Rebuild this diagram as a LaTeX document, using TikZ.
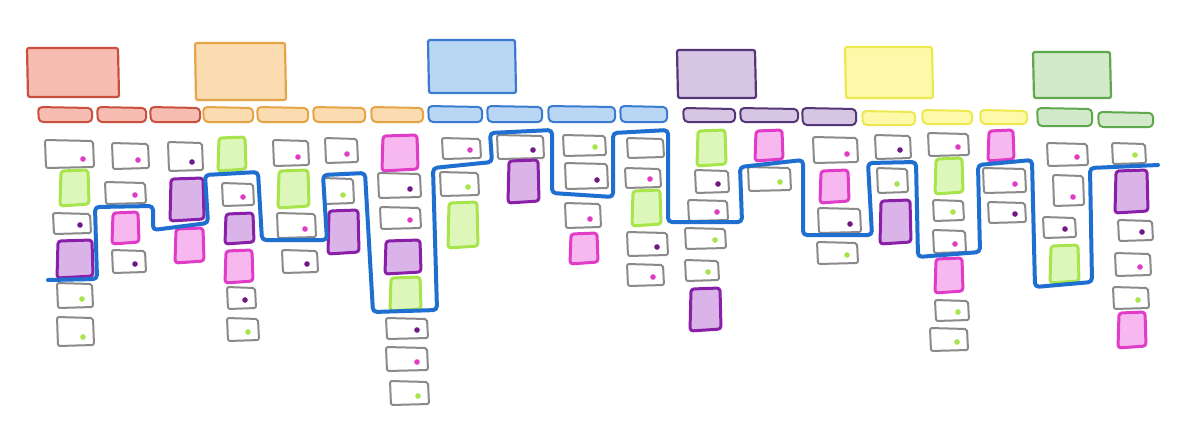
\documentclass[tikz,border=0pt]{standalone}
\definecolor{redF}{HTML}{F7BCB2}\definecolor{redD}{HTML}{C9503E}
\definecolor{oraF}{HTML}{FBDCB0}\definecolor{oraD}{HTML}{E6A448}
\definecolor{bluF}{HTML}{BAD6F5}\definecolor{bluD}{HTML}{3A7BD0}
\definecolor{purF}{HTML}{D6C6E4}\definecolor{purD}{HTML}{553778}
\definecolor{yelF}{HTML}{FCFAA8}\definecolor{yelD}{HTML}{EEE850}
\definecolor{grnF}{HTML}{D2EACA}\definecolor{grnD}{HTML}{5FA84E}
\definecolor{cardgray}{HTML}{8A8A8A}
\definecolor{magF}{HTML}{F7B8EF}\definecolor{magD}{HTML}{E03CC8}
\definecolor{vioF}{HTML}{DAB4E8}\definecolor{vioD}{HTML}{8A1FA8}
\definecolor{limF}{HTML}{DDF7BA}\definecolor{limD}{HTML}{A8E44C}
\definecolor{relblue}{HTML}{1F6FD1}
\tikzset{
  gcard/.style={draw=cardgray,line width=1pt,line join=round,rounded corners=1pt,fill=white},
  sqm/.style={draw=magD,fill=magF,line width=1.5pt,line join=round,rounded corners=1.5pt},
  sqp/.style={draw=vioD,fill=vioF,line width=1.5pt,line join=round,rounded corners=1.5pt},
  sqg/.style={draw=limD,fill=limF,line width=1.5pt,line join=round,rounded corners=1.5pt},
  dm/.style={fill=magD},
  dp/.style={fill=vioD!80!black},
  dg/.style={fill=limD},
  release/.style={draw=relblue,line width=2pt,line join=round,line cap=round,rounded corners=2pt},
  actbox/.style={line width=1.1pt,line join=round,rounded corners=1pt},
  taskbox/.style={line width=1pt,line join=round,rounded corners=2pt}
}
\newcommand\Gc[5]{\draw[gcard] (#1,#2) -- (#3,#2+1) -- (#3+1,#4) -- (#1+1,#4+1) -- cycle;
  \fill[#5] (#3-10,#4-8) circle[radius=1.4pt];}
\newcommand\Gn[4]{\draw[gcard] (#1,#2) -- (#3,#2+1) -- (#3+1,#4) -- (#1+1,#4+1) -- cycle;}
\newcommand\Sq[5]{\draw[#1] (#2+1,#3+1) -- (#4,#3) -- (#4+1,#5-1) -- (#2,#5+1) -- cycle;}
\newcommand\Act[6]{\draw[actbox,draw=#2,fill=#1] (#3,#4) -- (#5,#4) -- (#5+1,#6) -- (#3+1,#6) -- cycle;}
\newcommand\Tk[6]{\draw[taskbox,draw=#2,fill=#1] (#3,#4) -- (#5,#4+1) -- (#5,#6) -- (#3+1,#6) -- cycle;}
\begin{document}
\begin{tikzpicture}[x=0.5pt,y=-0.5pt]
\fill[white] (0,0) rectangle (1200,436);
\useasboundingbox (0,0) rectangle (1200,436);
% activities
\Act{redF}{redD}{27}{48}{118}{97}
\Act{oraF}{oraD}{195}{43}{285}{100}
\Act{bluF}{bluD}{428}{40}{515}{93}
\Act{purF}{purD}{677}{50}{755}{98}
\Act{yelF}{yelD}{845}{47}{932}{98}
\Act{grnF}{grnD}{1033}{52}{1110}{98}
% tasks
\Tk{redF}{redD}{38}{107}{92}{122}
\Tk{redF}{redD}{97}{107}{146}{122}
\Tk{redF}{redD}{150}{107}{200}{122}
\Tk{oraF}{oraD}{203}{107}{253}{122}
\Tk{oraF}{oraD}{257}{107}{308}{122}
\Tk{oraF}{oraD}{313}{107}{365}{122}
\Tk{oraF}{oraD}{371}{107}{423}{122}
\Tk{bluF}{bluD}{428}{106}{482}{122}
\Tk{bluF}{bluD}{487}{106}{542}{122}
\Tk{bluF}{bluD}{548}{106}{615}{122}
\Tk{bluF}{bluD}{620}{106}{667}{122}
\Tk{purF}{purD}{683}{108}{735}{122}
\Tk{purF}{purD}{740}{108}{798}{122}
\Tk{purF}{purD}{802}{108}{856}{125}
\Tk{yelF}{yelD}{862}{111}{915}{125}
\Tk{yelF}{yelD}{922}{110}{972}{124}
\Tk{yelF}{yelD}{980}{110}{1027}{124}
\Tk{grnF}{grnD}{1037}{108}{1092}{126}
\Tk{grnF}{grnD}{1098}{112}{1153}{127}
% col 1
\Gc{45}{140}{93}{167}{dm}
\Sq{sqg}{60}{170}{88}{205}
\Gc{53}{213}{90}{233}{dp}
\Sq{sqp}{57}{240}{92}{277}
\Gc{57}{283}{92}{307}{dg}
\Gc{57}{317}{93}{345}{dg}
% col 2
\Gc{112}{143}{148}{168}{dm}
\Gc{105}{182}{145}{203}{dm}
\Sq{sqm}{112}{212}{138}{243}
\Gc{112}{250}{145}{272}{dp}
% col 3
\Gc{168}{142}{202}{170}{dp}
\Sq{sqp}{170}{178}{203}{220}
\Sq{sqm}{175}{228}{203}{262}
% col 4
\Sq{sqg}{218}{137}{245}{170}
\Gc{222}{183}{253}{205}{dm}
\Sq{sqp}{225}{213}{253}{243}
\Sq{sqm}{225}{250}{252}{282}
\Gc{227}{287}{255}{308}{dp}
\Gc{227}{318}{258}{340}{dg}
% col 5
\Gc{273}{140}{308}{165}{dm}
\Sq{sqg}{278}{170}{308}{207}
\Gc{277}{213}{315}{237}{dm}
\Gc{282}{250}{317}{272}{dp}
% col 6
\Gc{325}{138}{357}{162}{dm}
\Gc{323}{178}{353}{203}{dg}
\Sq{sqp}{328}{210}{358}{253}
% col 7
\Sq{sqm}{382}{135}{417}{170}
\Gc{378}{173}{420}{197}{dp}
\Gc{380}{207}{420}{228}{dm}
\Sq{sqp}{385}{240}{420}{273}
\Sq{sqg}{390}{277}{420}{310}
\Gc{386}{318}{427}{338}{dp}
\Gc{386}{347}{427}{370}{dm}
\Gc{390}{381}{428}{404}{dg}
% col 8
\Gc{442}{138}{480}{158}{dm}
\Gc{440}{172}{478}{195}{dg}
\Sq{sqg}{448}{202}{477}{247}
% col 9
\Gc{497}{135}{543}{158}{dp}
\Sq{sqp}{508}{160}{538}{202}
% col 10
\Gc{563}{135}{605}{155}{dg}
\Gc{565}{163}{607}{188}{dp}
\Gc{565}{203}{600}{227}{dm}
\Sq{sqm}{570}{233}{597}{263}
% col 11
\Gn{627}{138}{663}{157}
\Gc{625}{168}{660}{187}{dm}
\Sq{sqg}{632}{190}{660}{225}
\Gc{627}{232}{667}{255}{dp}
\Gc{627}{264}{663}{285}{dm}
% col 12
\Sq{sqg}{697}{130}{725}{165}
\Gc{695}{170}{728}{192}{dp}
\Gc{688}{200}{727}{220}{dm}
\Gc{685}{228}{725}{248}{dg}
\Gc{685}{260}{718}{280}{dg}
\Sq{sqp}{690}{288}{720}{330}
% col 13
\Sq{sqm}{755}{130}{782}{160}
\Gc{748}{167}{790}{190}{dg}
% col 14
\Gc{813}{137}{857}{162}{dm}
\Sq{sqm}{820}{170}{848}{202}
\Gc{818}{208}{860}{232}{dp}
\Gc{817}{242}{857}{263}{dg}
% col 15
\Gc{875}{135}{910}{158}{dp}
\Gc{877}{168}{907}{192}{dg}
\Sq{sqp}{880}{200}{910}{243}
% col 16
\Gc{928}{133}{968}{155}{dm}
\Sq{sqg}{935}{158}{962}{193}
\Gc{933}{200}{963}{220}{dg}
\Gc{933}{230}{965}{252}{dm}
\Sq{sqm}{935}{258}{962}{292}
\Gc{935}{300}{968}{320}{dg}
\Gc{930}{328}{967}{350}{dg}
% col 17
\Sq{sqm}{988}{130}{1013}{160}
\Gc{983}{168}{1025}{192}{dm}
\Gc{988}{202}{1025}{222}{dp}
% col 18
\Gc{1047}{143}{1087}{165}{dm}
\Gc{1053}{175}{1083}{205}{dm}
\Gc{1043}{217}{1075}{237}{dp}
\Sq{sqg}{1050}{245}{1078}{282}
% col 19
\Gc{1112}{143}{1145}{163}{dg}
\Sq{sqp}{1115}{170}{1147}{212}
\Gc{1118}{220}{1152}{240}{dp}
\Gc{1115}{253}{1150}{275}{dm}
\Gc{1113}{287}{1148}{308}{dg}
\Sq{sqm}{1118}{312}{1145}{347}
% release line
\draw[release] (48,280) -- (97,279) -- (95,207) -- (153,206) -- (153,230) -- (208,223)
  -- (205,175) -- (258,172) -- (262,240) -- (327,240) -- (323,175) -- (365,173)
  -- (373,312) -- (437,310) -- (433,168) -- (492,162) -- (490,133) -- (552,130)
  -- (552,193) -- (613,197) -- (613,133) -- (668,130) -- (668,222) -- (742,222)
  -- (740,167) -- (803,160) -- (803,235) -- (872,235) -- (868,163) -- (916,162)
  -- (918,257) -- (980,252) -- (978,165) -- (1032,160) -- (1035,287) -- (1092,282)
  -- (1090,168) -- (1158,165);
\end{tikzpicture}
\end{document}
